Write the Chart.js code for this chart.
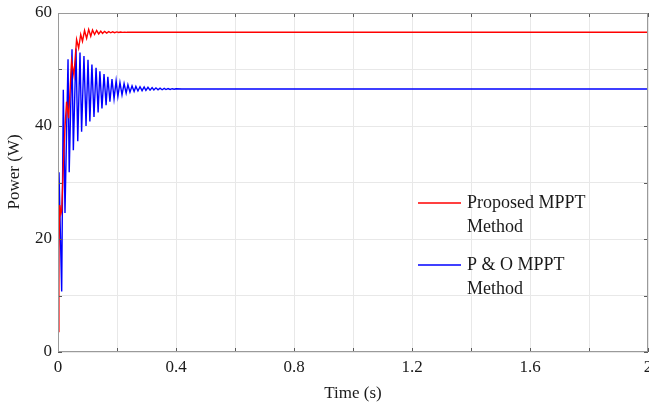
<!DOCTYPE html>
<html>
<head>
<meta charset="utf-8">
<script src="https://cdn.jsdelivr.net/npm/chart.js@4.4.1/dist/chart.umd.min.js"></script>
<style>
html,body{margin:0;padding:0;background:#fff;}
canvas{display:block;}
</style>
</head>
<body>
<canvas id="c" width="649" height="404"></canvas>
<script>
// ---- data ----
const seriesNames = [["Proposed MPPT", "Method"], ["P & O MPPT", "Method"]];
const seriesColors = ["#ff0000", "#0000ff"];

// Proposed MPPT (red)
const redTime = [0, 0.003, 0.006, 0.010, 0.0125, 0.018, 0.024, 0.029, 0.036, 0.046, 0.054, 0.063, 0.070, 0.077, 0.083, 0.090, 0.097, 0.104, 0.111, 0.117, 0.124, 0.131, 0.138, 0.145, 0.151, 0.158, 0.165, 0.172, 0.179, 0.185, 0.192, 0.199, 0.206, 0.212, 0.219, 0.226, 0.233, 0.25, 0.3, 2.0];
const redPower = [3.6, 18, 26, 24.5, 25, 33, 40, 44.3, 41.4, 51.5, 49, 55.3, 53.8, 56.2, 55.0, 56.9, 55.5, 57.1, 55.9, 57.0, 56.2, 56.9, 56.3, 56.8, 56.4, 56.75, 56.45, 56.7, 56.5, 56.68, 56.52, 56.65, 56.55, 56.63, 56.57, 56.62, 56.58, 56.6, 56.6, 56.6];

// P & O MPPT (blue)
const blueTime = [0, 0.0034, 0.0125, 0.018, 0.0237, 0.034, 0.038, 0.0475, 0.052, 0.061, 0.067, 0.0746, 0.080, 0.088, 0.095, 0.1017, 0.108, 0.115, 0.122, 0.129, 0.136, 0.142, 0.149, 0.156, 0.163, 0.169, 0.176, 0.183, 0.190, 0.197, 0.203, 0.210, 0.217, 0.224, 0.231, 0.237, 0.244, 0.251, 0.258, 0.264, 0.271, 0.278, 0.285, 0.292, 0.298, 0.305, 0.312, 0.319, 0.325, 0.332, 0.339, 0.346, 0.353, 0.360, 0.366, 0.373, 0.380, 0.387, 0.394, 0.40, 0.42, 2.0];
const bluePower = [3.6, 31.8, 10.7, 46.4, 24.6, 51.8, 31.8, 53.6, 35.7, 53.7, 37.3, 53.0, 39.0, 52.4, 40.0, 51.7, 40.8, 50.9, 41.6, 50.3, 42.4, 49.7, 43.1, 49.2, 43.7, 48.7, 44.3, 48.3, 44.8, 48.0, 45.2, 47.7, 45.5, 47.5, 45.8, 47.3, 46.0, 47.1, 46.1, 47.0, 46.2, 46.95, 46.25, 46.9, 46.3, 46.85, 46.35, 46.8, 46.38, 46.75, 46.4, 46.7, 46.42, 46.65, 46.45, 46.62, 46.47, 46.6, 46.5, 46.58, 46.55, 46.55];

const xTickLabels = ["0", "0.4", "0.8", "1.2", "1.6", "2"];
const yTickLabels = ["0", "20", "40", "60"];

const FONT = "'Liberation Serif', 'Times New Roman', serif";

function pts(t, v) { return t.map((x, i) => ({x: x, y: v[i]})); }

const framePlugin = {
  id: 'frame',
  afterDatasetsDraw(chart) {
    const {ctx, chartArea: a, scales: {x, y}} = chart;
    ctx.save();
    ctx.strokeStyle = '#5a5a5a';
    ctx.lineWidth = 1;
    const L = 4;
    x.ticks.forEach(t => {
      const px = Math.round(x.getPixelForValue(t.value)) + 0.5;
      ctx.beginPath();
      ctx.moveTo(px, a.bottom); ctx.lineTo(px, a.bottom - L);
      ctx.moveTo(px, a.top); ctx.lineTo(px, a.top + L);
      ctx.stroke();
    });
    y.ticks.forEach(t => {
      const py = Math.round(y.getPixelForValue(t.value)) + 0.5;
      ctx.beginPath();
      ctx.moveTo(a.left, py); ctx.lineTo(a.left + L, py);
      ctx.moveTo(a.right, py); ctx.lineTo(a.right - L, py);
      ctx.stroke();
    });
    ctx.strokeStyle = '#9a9a9a';
    ctx.strokeRect(Math.round(a.left) + 0.5, Math.round(a.top) + 0.5,
                   Math.round(a.right - a.left) - 1, Math.round(a.bottom - a.top) - 1);
    ctx.restore();
  },
  afterDraw(chart) {
    const {ctx} = chart;
    ctx.save();
    ctx.font = "18px " + FONT;
    ctx.textBaseline = 'middle';
    ctx.textAlign = 'left';
    const rows = [203, 265];
    chart.data.datasets.forEach((ds, i) => {
      const yy = rows[i];
      ctx.strokeStyle = ds.borderColor;
      ctx.lineWidth = 1.5;
      ctx.beginPath();
      ctx.moveTo(418, yy); ctx.lineTo(461, yy);
      ctx.stroke();
      ctx.fillStyle = '#1a1a1a';
      seriesNames[i].forEach((line, j) => {
        ctx.fillText(line, 467, yy + j * 24);
      });
    });
    ctx.restore();
  }
};

new Chart(document.getElementById('c'), {
  type: 'line',
  data: {
    datasets: [
      {label: seriesNames[0].join(' '), data: pts(redTime, redPower), borderColor: seriesColors[0], borderWidth: 1.4, pointRadius: 0, tension: 0, fill: false},
      {label: seriesNames[1].join(' '), data: pts(blueTime, bluePower), borderColor: seriesColors[1], borderWidth: 1.4, pointRadius: 0, tension: 0, fill: false}
    ]
  },
  plugins: [framePlugin],
  options: {
    responsive: false,
    animation: false,
    devicePixelRatio: 1,
    layout: {padding: {top: 13, right: 1, left: 0, bottom: 0}},
    plugins: {legend: {display: false}, tooltip: {enabled: false}},
    scales: {
      x: {
        type: 'linear', min: 0, max: 2,
        ticks: {
          stepSize: 0.2, padding: 5, color: '#1a1a1a', maxRotation: 0, autoSkip: false,
          font: {family: FONT, size: 17},
          callback: (v) => {
            const k = Math.round(v * 10);
            return k % 4 === 0 ? xTickLabels[k / 4] : '';
          }
        },
        grid: {color: '#e8e8e8', drawTicks: false},
        border: {display: false},
        title: {display: true, text: 'Time (s)', color: '#1a1a1a', font: {family: FONT, size: 17}, padding: {top: 0, bottom: 0}},
        afterFit: (s) => { s.height = 52; s.paddingLeft = 0; s.paddingRight = 0; }
      },
      y: {
        min: 0, max: 60,
        ticks: {
          stepSize: 10, padding: 6, color: '#1a1a1a',
          font: {family: FONT, size: 17},
          callback: (v) => (Math.round(v) % 20 === 0 ? yTickLabels[Math.round(v) / 20] : '')
        },
        grid: {color: '#e8e8e8', drawTicks: false},
        border: {display: false},
        title: {display: true, text: '     Power (W)', color: '#1a1a1a', font: {family: FONT, size: 17}, padding: {top: 4, bottom: 0}},
        afterFit: (s) => { s.width = 58; s.paddingTop = 0; s.paddingBottom = 0; }
      }
    }
  }
});
</script>
</body>
</html>
